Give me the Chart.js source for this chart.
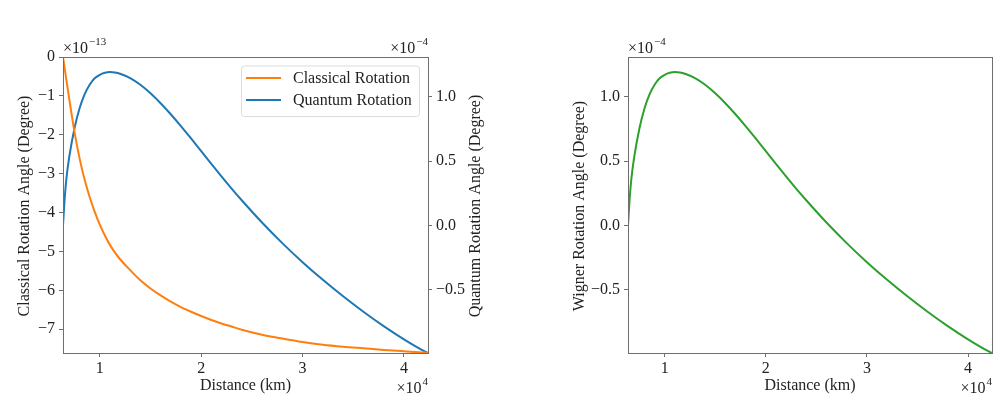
<!DOCTYPE html>
<html>
<head>
<meta charset="utf-8">
<script src="https://cdn.jsdelivr.net/npm/chart.js@4.4.1/dist/chart.umd.min.js"></script>
<style>
  html, body { margin: 0; padding: 0; background: #fff; }
  #wrap { position: relative; width: 1005px; height: 407px; }
  #graficoRotacao { position: absolute; left: 0; top: 0; }
  #graficoWigner { position: absolute; left: 540px; top: 0; }
</style>
</head>
<body>
<div id="wrap">
  <canvas id="graficoRotacao" width="500" height="407"></canvas>
  <canvas id="graficoWigner" width="465" height="407"></canvas>
</div>
<script>
// distancia em km (eixo x, mostrado em x10^4)
const distanceKm = [6371, 6500, 6700, 7000, 7500, 8000, 8500, 9000, 9500, 10000, 10500, 11000, 11500,
  12000, 13000, 14000, 15000, 16000, 17000, 18000, 19000, 20000, 21000, 22000, 23000, 24000,
  26000, 28000, 30000, 32000, 34000, 36000, 38000, 40000, 42000, 42371];
// rotacao classica (x10^-13 grau)
const classicalRotation = [0, -0.23, -0.58, -1.1, -1.92, -2.6, -3.15, -3.6, -3.98, -4.31, -4.59, -4.83, -5.03,
  -5.2, -5.48, -5.74, -5.95, -6.13, -6.29, -6.43, -6.55, -6.66, -6.76, -6.85, -6.93, -7.01,
  -7.14, -7.24, -7.33, -7.4, -7.45, -7.49, -7.53, -7.565, -7.6, -7.61];
// rotacao quantica (x10^-4 grau)
const quantumRotation = [0, 0.17, 0.36, 0.54, 0.755, 0.91, 1.02, 1.095, 1.145, 1.172, 1.187, 1.193, 1.19,
  1.18, 1.146, 1.094, 1.028, 0.951, 0.865, 0.773, 0.677, 0.578, 0.48, 0.383, 0.288, 0.197,
  0.024, -0.136, -0.284, -0.421, -0.549, -0.669, -0.781, -0.884, -0.976, -0.99];
// rotacao de Wigner (x10^-4 grau)
const wignerRotation = [0, 0.17, 0.36, 0.54, 0.755, 0.91, 1.02, 1.095, 1.145, 1.172, 1.187, 1.193, 1.19,
  1.18, 1.146, 1.094, 1.028, 0.951, 0.865, 0.773, 0.677, 0.578, 0.48, 0.383, 0.288, 0.197,
  0.024, -0.136, -0.284, -0.421, -0.549, -0.669, -0.781, -0.884, -0.976, -0.99];

const xTicks = [10000, 20000, 30000, 40000];
const classicalTicks = [0, -1, -2, -3, -4, -5, -6, -7];
const quantumTicks = [-0.5, 0, 0.5, 1.0];

const FONTE = "Liberation Serif";
const corTexto = "#222";
const corEixo = "#6e6e6e";

function menos(s) { return String(s).replace("-", "\u2212"); }
function pontos(ys) { return distanceKm.map((x, i) => ({ x: x, y: ys[i] })); }

function eixoX() {
  return {
    type: "linear", min: 6371, max: 42371,
    afterFit: (s) => { s.height = 54; },
    afterBuildTicks: (s) => { s.ticks = xTicks.map(v => ({ value: v })); },
    ticks: { callback: v => String(v / 1e4), font: { family: FONTE, size: 16 }, color: corTexto, padding: 2, maxRotation: 0 },
    grid: { drawOnChartArea: false, tickLength: 4, tickColor: corEixo },
    border: { color: corEixo, width: 1 },
  };
}

function eixoY(pos, min, max, valores, largura, fmt) {
  return {
    type: "linear", position: pos, min: min, max: max,
    afterFit: (s) => { s.width = largura; },
    afterBuildTicks: (s) => { s.ticks = valores.map(v => ({ value: v })); },
    ticks: { callback: fmt, font: { family: FONTE, size: 16 }, color: corTexto, padding: 4 },
    grid: { drawOnChartArea: false, tickLength: 4, tickColor: corEixo },
    border: { color: corEixo, width: 1 },
  };
}

function textoSci(ctx, x, y, exp, alinhaDireita) {
  ctx.save();
  ctx.fillStyle = corTexto;
  ctx.textBaseline = "alphabetic";
  ctx.textAlign = "left";
  ctx.font = "16px '" + FONTE + "'";
  const base = "\u00d710";
  const wb = ctx.measureText(base).width;
  ctx.font = "11px '" + FONTE + "'";
  const we = ctx.measureText(exp).width;
  const x0 = alinhaDireita ? x - wb - we - 1 : x;
  ctx.font = "16px '" + FONTE + "'";
  ctx.fillText(base, x0, y);
  ctx.font = "11px '" + FONTE + "'";
  ctx.fillText(exp, x0 + wb + 1, y - 8);
  ctx.restore();
}

function tituloVertical(ctx, texto, x, y) {
  ctx.save();
  ctx.translate(x, y);
  ctx.rotate(-Math.PI / 2);
  ctx.fillStyle = corTexto;
  ctx.font = "16px '" + FONTE + "'";
  ctx.textAlign = "center";
  ctx.textBaseline = "middle";
  ctx.fillText(texto, 0, 0);
  ctx.restore();
}

function tituloHorizontal(ctx, texto, x, y) {
  ctx.save();
  ctx.fillStyle = corTexto;
  ctx.font = "16px '" + FONTE + "'";
  ctx.textAlign = "center";
  ctx.textBaseline = "middle";
  ctx.fillText(texto, x, y);
  ctx.restore();
}

function moldura(chart) {
  const a = chart.chartArea, ctx = chart.ctx;
  ctx.save();
  ctx.strokeStyle = corEixo;
  ctx.lineWidth = 1;
  ctx.strokeRect(Math.round(a.left) + 0.5, Math.round(a.top) + 0.5, Math.round(a.right - a.left), Math.round(a.bottom - a.top));
  ctx.restore();
}

const extrasRotacao = {
  id: "extrasRotacao",
  afterDraw(chart) {
    const ctx = chart.ctx, a = chart.chartArea;
    moldura(chart);
    textoSci(ctx, a.left, 53, "\u221213", false);
    textoSci(ctx, a.right, 53, "\u22124", true);
    textoSci(ctx, a.right, 393, "4", true);
    tituloVertical(ctx, "Classical Rotation Angle (Degree)", 25, 206);
    tituloVertical(ctx, "Quantum Rotation Angle (Degree)", 476, 206);
    tituloHorizontal(ctx, "Distance (km)", (a.left + a.right) / 2, 386);

    // legenda estilo matplotlib
    ctx.save();
    const lx = 241, ly = 65.5, lw = 178, lh = 50.5;
    ctx.beginPath();
    ctx.roundRect(lx + 0.5, ly + 0.5, lw, lh, 3);
    ctx.fillStyle = "rgba(255,255,255,0.8)";
    ctx.fill();
    ctx.strokeStyle = "#dcdcdc";
    ctx.lineWidth = 1;
    ctx.stroke();
    const itens = chart.data.datasets;
    itens.forEach((ds, i) => {
      const y = 78 + i * 22;
      ctx.strokeStyle = ds.borderColor;
      ctx.lineWidth = 2;
      ctx.beginPath();
      ctx.moveTo(246, y);
      ctx.lineTo(281, y);
      ctx.stroke();
      ctx.fillStyle = corTexto;
      ctx.font = "16px '" + FONTE + "'";
      ctx.textAlign = "left";
      ctx.textBaseline = "middle";
      ctx.fillText(ds.label, 293, y + 1);
    });
    ctx.restore();
  },
};

const extrasWigner = {
  id: "extrasWigner",
  afterDraw(chart) {
    const ctx = chart.ctx, a = chart.chartArea;
    moldura(chart);
    textoSci(ctx, a.left, 53, "\u22124", false);
    textoSci(ctx, a.right, 393, "4", true);
    tituloVertical(ctx, "Wigner Rotation Angle (Degree)", 40, 206);
    tituloHorizontal(ctx, "Distance (km)", (a.left + a.right) / 2, 386);
  },
};

const fmtInteiro = v => menos(v);
const fmtDecimal = v => menos(Number(v).toFixed(1));

new Chart(document.getElementById("graficoRotacao").getContext("2d"), {
  type: "line",
  data: {
    datasets: [
      { label: "Classical Rotation", data: pontos(classicalRotation), yAxisID: "y",
        borderColor: "#ff7f0e", borderWidth: 2, pointRadius: 0, cubicInterpolationMode: "monotone" },
      { label: "Quantum Rotation", data: pontos(quantumRotation), yAxisID: "y1",
        borderColor: "#1f77b4", borderWidth: 2, pointRadius: 0, cubicInterpolationMode: "monotone" },
    ],
  },
  options: {
    responsive: false,
    animation: false,
    layout: { padding: { top: 57, left: 0, right: 0, bottom: 0 } },
    plugins: { legend: { display: false }, tooltip: { enabled: false } },
    scales: {
      x: eixoX(),
      y: eixoY("left", -7.61, 0, classicalTicks, 63, fmtInteiro),
      y1: eixoY("right", -0.99, 1.31, quantumTicks, 72, fmtDecimal),
    },
  },
  plugins: [extrasRotacao],
});

new Chart(document.getElementById("graficoWigner").getContext("2d"), {
  type: "line",
  data: {
    datasets: [
      { label: "Wigner Rotation", data: pontos(wignerRotation),
        borderColor: "#2ca02c", borderWidth: 2, pointRadius: 0, cubicInterpolationMode: "monotone" },
    ],
  },
  options: {
    responsive: false,
    animation: false,
    layout: { padding: { top: 57, left: 0, right: 13, bottom: 0 } },
    plugins: { legend: { display: false }, tooltip: { enabled: false } },
    scales: {
      x: eixoX(),
      y: eixoY("left", -0.99, 1.31, quantumTicks, 88, fmtDecimal),
    },
  },
  plugins: [extrasWigner],
});
</script>
</body>
</html>
